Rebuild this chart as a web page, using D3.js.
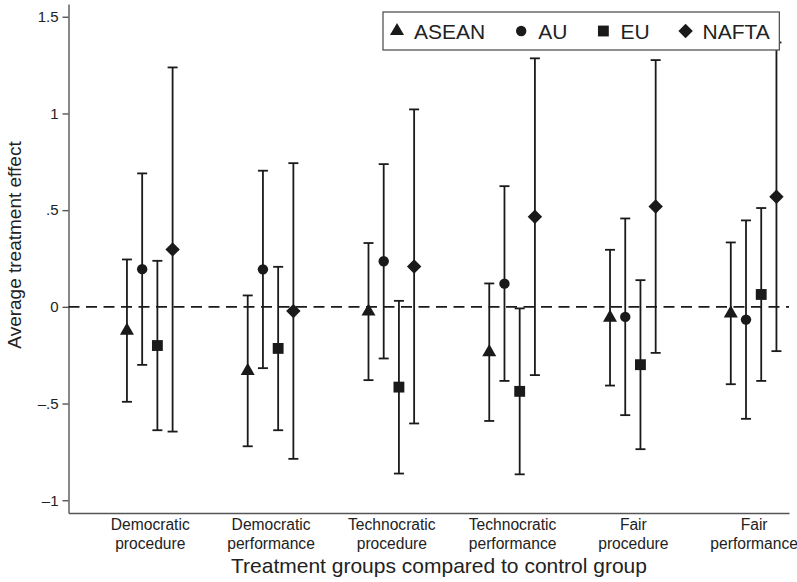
<!DOCTYPE html>
<html>
<head>
<meta charset="utf-8">
<script src="https://cdn.jsdelivr.net/npm/d3@7"></script>
<style>
    body { margin: 0; background: #fff; }
    svg { display: block; font-family: "Liberation Sans", Arial, Helvetica, sans-serif; }
    .axis .domain { stroke: #555; stroke-width: 1.4; }
    .axis .tick line { stroke: #555; stroke-width: 1.4; }
    .axis .tick text { fill: #222; }
    .zero-line { stroke: #1a1a1a; stroke-width: 1.8; stroke-dasharray: 11 6.5; }
    .bar line { stroke: #1a1a1a; stroke-width: 1.8; }
    .marker { fill: #1a1a1a; }
    .title { fill: #222; }
</style>
</head>
<body>
<div id="chart"></div>
<script>
// chart data
const groupLabels = [
    ["Democratic", "procedure"],
    ["Democratic", "performance"],
    ["Technocratic", "procedure"],
    ["Technocratic", "performance"],
    ["Fair", "procedure"],
    ["Fair", "performance"]
];
const seriesNames = ["ASEAN", "AU", "EU", "NAFTA"];

const aseanEst = [-0.123, -0.331, -0.024, -0.234, -0.056, -0.034];
const aseanLow = [-0.491, -0.721, -0.379, -0.590, -0.407, -0.400];
const aseanHigh = [0.245, 0.059, 0.330, 0.121, 0.295, 0.333];

const auEst = [0.195, 0.194, 0.236, 0.120, -0.052, -0.066];
const auLow = [-0.300, -0.317, -0.267, -0.383, -0.560, -0.579];
const auHigh = [0.690, 0.704, 0.738, 0.624, 0.457, 0.447];

const euEst = [-0.200, -0.215, -0.415, -0.437, -0.299, 0.064];
const euLow = [-0.638, -0.638, -0.862, -0.866, -0.736, -0.383];
const euHigh = [0.238, 0.207, 0.031, -0.008, 0.138, 0.511];

const naftaEst = [0.297, -0.022, 0.209, 0.466, 0.519, 0.569];
const naftaLow = [-0.645, -0.786, -0.603, -0.353, -0.238, -0.229];
const naftaHigh = [1.238, 0.743, 1.021, 1.285, 1.276, 1.367];

const yTicks = [-1, -0.5, 0, 0.5, 1, 1.5];
const yTickLabels = ["\u20131", "\u2013.5", "0", ".5", "1", "1.5"];

class ErrorBarChart {
    constructor(containerId) {
        this.container = d3.select(containerId);
        this.width = 797;
        this.height = 582;
        this.series = [
            { name: seriesNames[0], est: aseanEst, low: aseanLow, high: aseanHigh, shape: "triangle" },
            { name: seriesNames[1], est: auEst, low: auLow, high: auHigh, shape: "circle" },
            { name: seriesNames[2], est: euEst, low: euLow, high: euHigh, shape: "square" },
            { name: seriesNames[3], est: naftaEst, low: naftaLow, high: naftaHigh, shape: "diamond" }
        ];
        this.offsets = [-0.189, -0.063, 0.063, 0.189];
        this.initSVG();
    }

    symbolPath(shape) {
        if (shape === "triangle") return d3.symbol().type(d3.symbolTriangle).size(85)();
        if (shape === "circle") return d3.symbol().type(d3.symbolCircle).size(85)();
        if (shape === "square") return d3.symbol().type(d3.symbolSquare).size(118)();
        return d3.symbol().type(d3.symbolSquare).size(104)();
    }

    initSVG() {
        this.svg = this.container.append("svg")
            .attr("width", this.width)
            .attr("height", this.height);

        this.x = d3.scaleLinear().domain([-0.673, 5.293]).range([68.5, 789]);
        this.y = d3.scaleLinear().domain([-1.066, 1.566]).range([513, 4]);

        this.drawAxes();
        this.drawBars();
        this.drawLegend();
    }

    drawAxes() {
        const yAxis = d3.axisLeft(this.y)
            .tickValues(yTicks)
            .tickSize(6)
            .tickSizeOuter(0)
            .tickPadding(4)
            .tickFormat((d, i) => yTickLabels[i]);

        this.svg.append("g")
            .attr("class", "axis")
            .attr("transform", `translate(${this.x.range()[0]},0)`)
            .call(yAxis)
            .selectAll("text")
            .attr("font-size", 15)
            .attr("font-family", null);

        const xAxis = d3.axisBottom(this.x)
            .tickValues(d3.range(groupLabels.length))
            .tickSize(0)
            .tickSizeOuter(0)
            .tickFormat("");

        const xg = this.svg.append("g")
            .attr("class", "axis")
            .attr("transform", `translate(0,${this.y.range()[0]})`)
            .call(xAxis);

        // two-line category labels
        xg.selectAll(".tick text")
            .attr("y", 17)
            .attr("dy", null)
            .attr("font-size", 15.6)
            .attr("font-family", null)
            .each(function(d) {
                const t = d3.select(this);
                groupLabels[d].forEach((line, i) => {
                    t.append("tspan").attr("x", 0).attr("dy", i === 0 ? 0 : 19).text(line);
                });
            });

        // zero reference line
        this.svg.append("line")
            .attr("class", "zero-line")
            .attr("x1", this.x.range()[0])
            .attr("x2", this.x.range()[1])
            .attr("y1", this.y(0))
            .attr("y2", this.y(0));

        // axis titles
        this.svg.append("text")
            .attr("class", "title")
            .attr("x", 439)
            .attr("y", 573)
            .attr("text-anchor", "middle")
            .attr("font-size", 21)
            .text("Treatment groups compared to control group");

        this.svg.append("text")
            .attr("class", "title")
            .attr("transform", "translate(21,245) rotate(-90)")
            .attr("text-anchor", "middle")
            .attr("font-size", 19)
            .text("Average treatment effect");
    }

    drawBars() {
        const capHalf = 5;
        this.series.forEach((s, si) => {
            const rows = s.est.map((v, g) => ({ g: g, est: v, low: s.low[g], high: s.high[g] }));
            const grp = this.svg.selectAll(`.bar-${si}`)
                .data(rows)
                .enter().append("g")
                .attr("class", `bar bar-${si}`)
                .attr("transform", d => `translate(${this.x(d.g + this.offsets[si])},0)`);

            grp.append("line")
                .attr("y1", d => this.y(d.low))
                .attr("y2", d => this.y(d.high));
            grp.append("line")
                .attr("x1", -capHalf).attr("x2", capHalf)
                .attr("y1", d => this.y(d.low)).attr("y2", d => this.y(d.low));
            grp.append("line")
                .attr("x1", -capHalf).attr("x2", capHalf)
                .attr("y1", d => this.y(d.high)).attr("y2", d => this.y(d.high));

            grp.append("path")
                .attr("class", "marker")
                .attr("d", this.symbolPath(s.shape))
                .attr("transform", d => `translate(0,${this.y(d.est)})` + (s.shape === "diamond" ? " rotate(45)" : ""));
        });
    }

    drawLegend() {
        const lg = this.svg.append("g").attr("class", "legend");
        const box = lg.append("rect")
            .attr("fill", "#fff")
            .attr("stroke", "#555")
            .attr("stroke-width", 1.3);

        const gap = 53;
        let cursor = 414;
        let textEnd = cursor;
        this.series.forEach(s => {
            lg.append("path")
                .attr("class", "marker")
                .attr("d", this.symbolPath(s.shape))
                .attr("transform", `translate(${cursor - 17},31)` + (s.shape === "diamond" ? " rotate(45)" : ""));
            const t = lg.append("text")
                .attr("x", cursor)
                .attr("y", 31)
                .attr("dy", "0.36em")
                .attr("font-size", 21)
                .attr("fill", "#222")
                .text(s.name);
            textEnd = cursor + t.node().getComputedTextLength();
            cursor = textEnd + gap;
        });

        box.attr("x", 383).attr("y", 12)
            .attr("width", textEnd + 9.5 - 383)
            .attr("height", 38);
    }
}

new ErrorBarChart("#chart");
</script>
</body>
</html>
